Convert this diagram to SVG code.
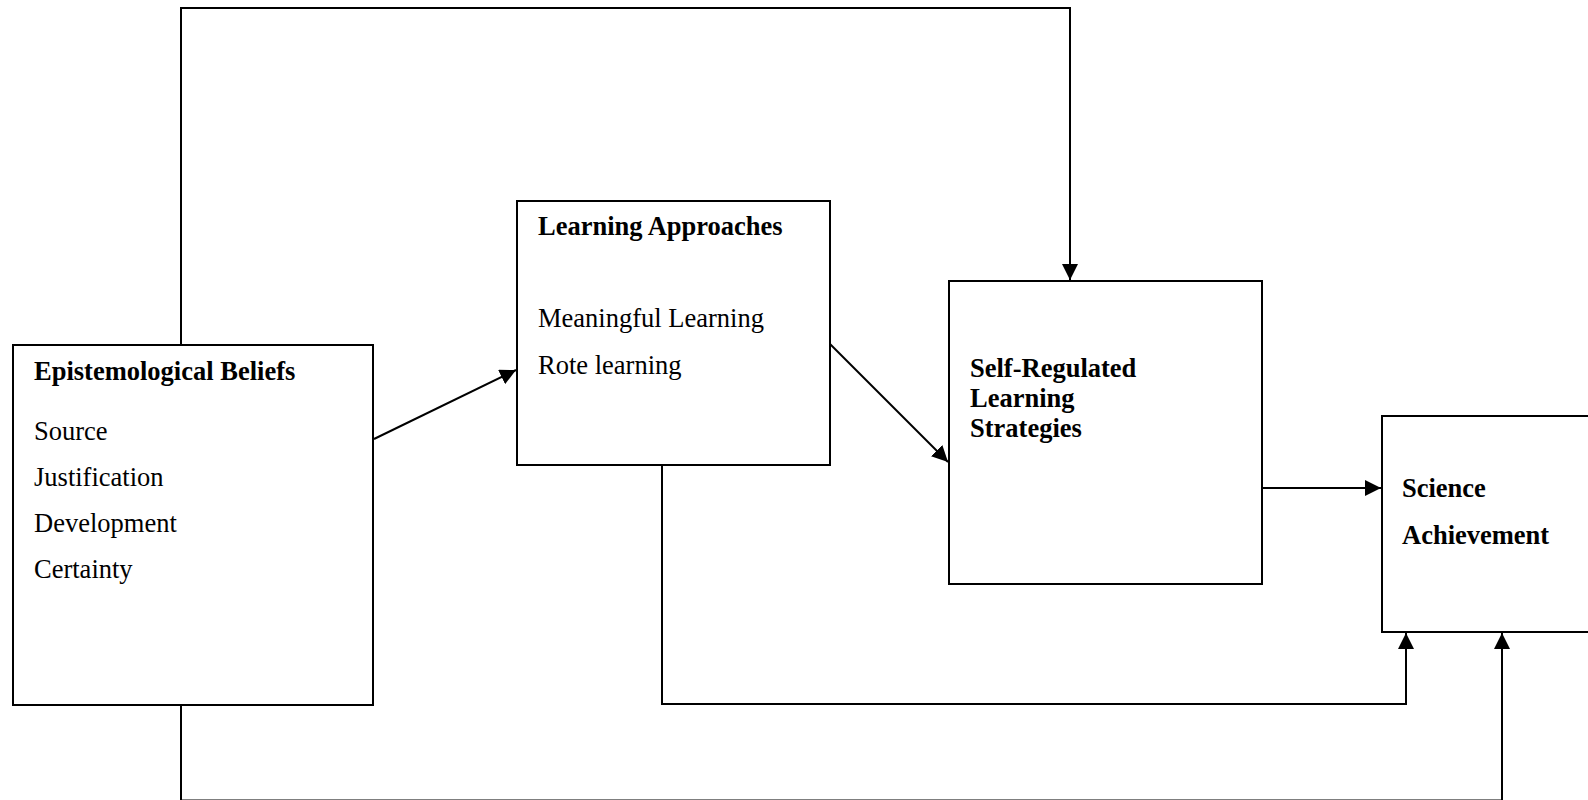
<svg xmlns="http://www.w3.org/2000/svg" width="1588" height="800" viewBox="0 0 1588 800">
  <style>
    .box { fill: #ffffff; stroke: #000000; stroke-width: 2; }
    .wire { fill: none; stroke: #000000; stroke-width: 2; }
    .title { font-family: "Liberation Serif", "Times New Roman", serif; font-size: 26.5px; font-weight: bold; fill: #000000; }
    .item { font-family: "Liberation Serif", "Times New Roman", serif; font-size: 26.5px; fill: #000000; }
  </style>
  <defs>
    <marker id="arrow" viewBox="0 0 16 16" refX="16" refY="8" markerWidth="16" markerHeight="16" markerUnits="userSpaceOnUse" orient="auto">
      <path d="M0,0 L16,8 L0,16 Z" fill="#000000"/>
    </marker>
  </defs>
  <rect width="1588" height="800" fill="#ffffff"/>

  <g id="connectors">
    <!-- beliefs over the top into self-regulated strategies -->
    <path class="wire" d="M181,344 V8 H1070 V280" marker-end="url(#arrow)"/>
    <!-- beliefs to learning approaches -->
    <path class="wire" d="M374,439 L516,370" marker-end="url(#arrow)"/>
    <!-- learning approaches to self-regulated strategies -->
    <path class="wire" d="M830,344 L948,462" marker-end="url(#arrow)"/>
    <!-- self-regulated strategies to achievement -->
    <path class="wire" d="M1262,488 H1381" marker-end="url(#arrow)"/>
    <!-- learning approaches underneath to achievement -->
    <path class="wire" d="M662,465 V704 H1406 V633" marker-end="url(#arrow)"/>
    <!-- beliefs along the bottom to achievement -->
    <path class="wire" d="M181,705 V800.6 H1502 V633" marker-end="url(#arrow)"/>
  </g>

  <g id="epistemological-beliefs">
    <rect class="box" x="13" y="345" width="360" height="360"/>
    <text class="title" x="34" y="380">Epistemological Beliefs</text>
    <text class="item" x="34" y="440">Source</text>
    <text class="item" x="34" y="486">Justification</text>
    <text class="item" x="34" y="532">Development</text>
    <text class="item" x="34" y="578">Certainty</text>
  </g>

  <g id="learning-approaches">
    <rect class="box" x="517" y="201" width="313" height="264"/>
    <text class="title" x="538" y="235">Learning Approaches</text>
    <text class="item" x="538" y="327">Meaningful Learning</text>
    <text class="item" x="538" y="374">Rote learning</text>
  </g>

  <g id="self-regulated-strategies">
    <rect class="box" x="949" y="281" width="313" height="303"/>
    <text class="title" x="970" y="377">Self-Regulated</text>
    <text class="title" x="970" y="407">Learning</text>
    <text class="title" x="970" y="437">Strategies</text>
  </g>

  <g id="science-achievement">
    <rect class="box" x="1382" y="416" width="230" height="216"/>
    <text class="title" x="1402" y="497">Science</text>
    <text class="title" x="1402" y="544">Achievement</text>
  </g>
</svg>
